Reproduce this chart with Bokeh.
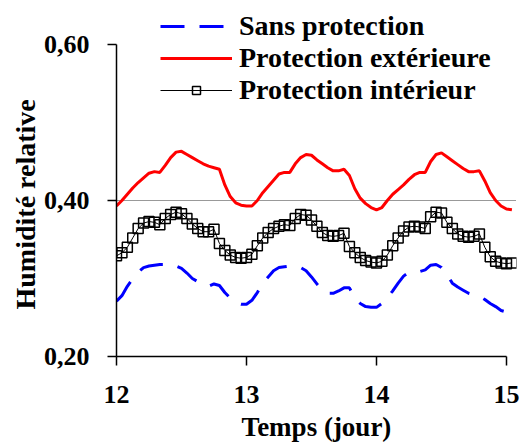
from bokeh.plotting import figure
from bokeh.models import Range1d, FixedTicker, Legend, LegendItem, Title
from bokeh.embed import file_html
from bokeh.resources import INLINE

# ---- data (hourly samples from day 12 to ~15.04) ----
heures = list(range(74))
temps_jour = [12 + h / 24 for h in heures]

sans_protection = [
    0.271, 0.278, 0.290, 0.300, 0.308, 0.314, 0.316, 0.317, 0.318, 0.318,
    0.318, 0.316, 0.313, 0.307, 0.300, 0.296, 0.292, 0.290, 0.293, 0.291,
    0.282, 0.275, 0.270, 0.267, 0.267, 0.272, 0.282, 0.294, 0.302, 0.310,
    0.314, 0.315, 0.316, 0.315, 0.314, 0.310, 0.302, 0.293, 0.285, 0.281,
    0.281, 0.284, 0.288, 0.288, 0.275, 0.268, 0.264, 0.263, 0.263, 0.268,
    0.276, 0.284, 0.294, 0.303, 0.308, 0.309, 0.309, 0.311, 0.317, 0.318,
    0.314, 0.305, 0.294, 0.289, 0.285, 0.281, 0.279, 0.277, 0.273, 0.268,
    0.264, 0.259, 0.257, 0.255,
]

protection_exterieure = [
    0.393, 0.400, 0.408, 0.416, 0.423, 0.429, 0.435, 0.437, 0.436, 0.445,
    0.455, 0.462, 0.463, 0.459, 0.455, 0.451, 0.447, 0.444, 0.442, 0.440,
    0.420, 0.405, 0.397, 0.394, 0.393, 0.393, 0.400, 0.410, 0.418, 0.426,
    0.434, 0.436, 0.436, 0.447, 0.455, 0.459, 0.458, 0.452, 0.447, 0.442,
    0.438, 0.438, 0.440, 0.432, 0.415, 0.403, 0.396, 0.391, 0.388, 0.391,
    0.400, 0.408, 0.414, 0.420, 0.427, 0.433, 0.436, 0.436, 0.450, 0.459,
    0.461, 0.456, 0.451, 0.446, 0.441, 0.437, 0.437, 0.438, 0.425, 0.410,
    0.400, 0.393, 0.389, 0.388,
]

protection_interieur = [
    0.329, 0.333, 0.340, 0.352, 0.364, 0.371, 0.373, 0.372, 0.369, 0.377,
    0.382, 0.385, 0.383, 0.377, 0.370, 0.364, 0.360, 0.360, 0.363, 0.345,
    0.336, 0.330, 0.327, 0.326, 0.327, 0.331, 0.342, 0.352, 0.359, 0.364,
    0.367, 0.369, 0.368, 0.377, 0.382, 0.381, 0.375, 0.367, 0.359, 0.355,
    0.354, 0.355, 0.358, 0.341, 0.333, 0.327, 0.323, 0.321, 0.320, 0.322,
    0.330, 0.342, 0.352, 0.361, 0.366, 0.367, 0.366, 0.364, 0.379, 0.385,
    0.384, 0.372, 0.364, 0.357, 0.354, 0.353, 0.354, 0.357, 0.340, 0.328,
    0.322, 0.320, 0.319, 0.320,
]

x_ticks = [12, 13, 14, 15]
y_ticks = [0.20, 0.40, 0.60]
y_tick_labels = ["0,20", "0,40", "0,60"]
ref_line = [0.40]

labels = ["Sans protection", "Protection extérieure", "Protection intérieur"]
x_title = "Temps (jour)"
y_title = "Humidité relative"

FONT = "Liberation Serif"

p = figure(width=520, height=444, output_backend="svg", toolbar_location=None,
           x_range=Range1d(12, 15.077), y_range=Range1d(0.2, 0.6474),
           min_border_left=116, min_border_right=4, min_border_top=7,
           min_border_bottom=88)
p.outline_line_color = None
p.background_fill_color = "white"

# reference dotted line at 0.40 via grid
p.xgrid.visible = False
p.ygrid.ticker = FixedTicker(ticks=ref_line)
p.ygrid.grid_line_color = "#333333"
p.ygrid.grid_line_dash = "1 1"
p.ygrid.grid_line_width = 1

r_blue = p.line(temps_jour, sans_protection, line_color="#0000FF", line_width=3,
                line_dash="24 15")
r_red = p.line(temps_jour, protection_exterieure, line_color="#FF0000", line_width=3)
r_blk = p.line(temps_jour, protection_interieur, line_color="black", line_width=1)
r_sq = p.scatter(temps_jour, protection_interieur, marker="square", size=10,
                 fill_color=None, line_color="black", line_width=1.5)

for ax in (p.xaxis[0], p.yaxis[0]):
    ax.axis_line_width = 1.5
    ax.major_tick_line_width = 1.5
    ax.major_tick_out = 9
    ax.major_tick_in = 0
    ax.minor_tick_out = 0
    ax.minor_tick_in = 0
    ax.major_label_text_font = FONT
    ax.major_label_text_font_style = "bold"
    ax.major_label_text_font_size = "26px"
    ax.major_label_text_color = "black"
    ax.axis_label_text_font = FONT
    ax.axis_label_text_font_style = "bold"
    ax.axis_label_text_color = "black"

p.xaxis.ticker = FixedTicker(ticks=x_ticks)
p.xaxis.bounds = (x_ticks[0], x_ticks[-1])
p.xaxis.major_label_standoff = 20
p.xaxis.axis_label = x_title
p.xaxis.axis_label_text_font_size = "27px"
p.xaxis.axis_label_standoff = 6

p.yaxis.ticker = FixedTicker(ticks=y_ticks)
p.yaxis.bounds = (y_ticks[0], y_ticks[-1])
p.yaxis.major_label_overrides = {t: l for t, l in zip(y_ticks, y_tick_labels)}
p.yaxis.major_label_standoff = 18

# y-axis title as a side title, centred on the 0.20-0.60 span
p.add_layout(Title(text=y_title, align="left", offset=47, standoff=0,
                   text_font=FONT, text_font_style="bold",
                   text_font_size="28px", text_color="black"), "left")

legend = Legend(items=[
    LegendItem(label=labels[0], renderers=[r_blue]),
    LegendItem(label=labels[1], renderers=[r_red]),
    LegendItem(label=labels[2], renderers=[r_blk, r_sq]),
], location=(44, 250))
legend.glyph_width = 72
legend.glyph_height = 20
legend.label_standoff = 7
legend.spacing = -2
legend.padding = 0
legend.margin = 0
legend.border_line_color = None
legend.background_fill_alpha = 0
legend.label_text_font = FONT
legend.label_text_font_style = "bold"
legend.label_text_font_size = "28px"
legend.label_text_color = "black"
p.add_layout(legend)

open("out.html", "w").write(file_html(p, INLINE))
